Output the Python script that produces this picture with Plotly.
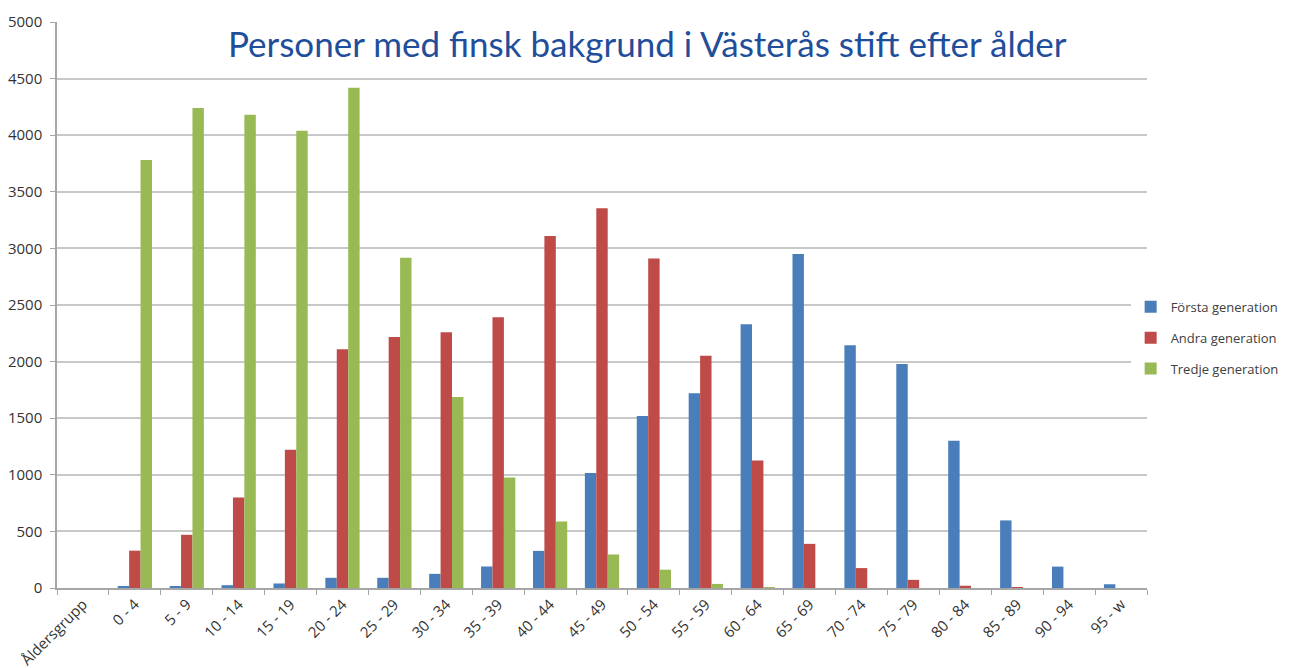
import plotly.graph_objects as go

categories = ["Åldersgrupp", "0 - 4", "5 - 9", "10 - 14", "15 - 19", "20 - 24", "25 - 29",
              "30 - 34", "35 - 39", "40 - 44", "45 - 49", "50 - 54", "55 - 59", "60 - 64",
              "65 - 69", "70 - 74", "75 - 79", "80 - 84", "85 - 89", "90 - 94", "95 - w"]

forsta = [None, 15, 15, 25, 40, 90, 90, 125, 190, 328, 1015, 1520, 1720, 2330,
          2950, 2144, 1978, 1300, 597, 189, 33]
andra = [None, 330, 470, 800, 1222, 2110, 2218, 2260, 2391, 3110, 3355, 2910, 2052, 1127,
         390, 176, 72, 20, 6, 0, 0]
tredje = [None, 3780, 4240, 4180, 4040, 4420, 2918, 1687, 977, 588, 296, 162, 36, 4,
          0, 0, 0, 0, 0, 0, 0]

series_names = ["Första generation", "Andra generation", "Tredje generation"]
colors = ["#4a7ebb", "#be4b48", "#98b954"]

fig = go.Figure()
for i, (name, vals, col) in enumerate(zip(series_names, [forsta, andra, tredje], colors)):
    fig.add_trace(go.Bar(x=categories, y=vals, name=name, legendgroup=f"g{i}",
                         marker=dict(color=col, line=dict(width=0))))

fig.update_layout(
    width=1283, height=660,
    barmode="group", bargap=0.34, bargroupgap=0,
    plot_bgcolor="white", paper_bgcolor="white",
    margin=dict(l=49, r=144, t=14, b=80, autoexpand=False),
    font=dict(family="Open Sans", size=13, color="#404040"),
    legend=dict(x=0.985, y=0.442, xanchor="left", yanchor="middle",
                font=dict(size=13, color="#404040"), tracegroupgap=11,
                traceorder="grouped", itemwidth=30),
    showlegend=True,
    annotations=[dict(text="Personer med finsk bakgrund i Västerås stift efter ålder",
                      xref="paper", yref="paper", x=0.542, y=0.963,
                      xanchor="center", yanchor="middle", showarrow=False,
                      font=dict(family="Lato", size=35, color="#1f4e9a"))],
)
fig.update_xaxes(type="category", tickangle=-45, showline=True, linecolor="#a6a6a6", linewidth=1.5,
                 ticks="outside", tickson="boundaries", ticklen=5, tickcolor="#a6a6a6",
                 showgrid=False, tickfont=dict(size=15, color="#333333"), automargin=False)
fig.update_yaxes(range=[0, 5000], dtick=500, showline=True, linecolor="#a6a6a6", linewidth=1.5,
                 showgrid=True, gridcolor="#c8c8c8", gridwidth=1.5, zeroline=False,
                 tickfont=dict(size=15, color="#333333"), ticks="outside", ticklen=5,
                 tickcolor="#a6a6a6", ticklabelstandoff=5, tickformat="d",
                 automargin=False)

fig.write_html("out.html")
